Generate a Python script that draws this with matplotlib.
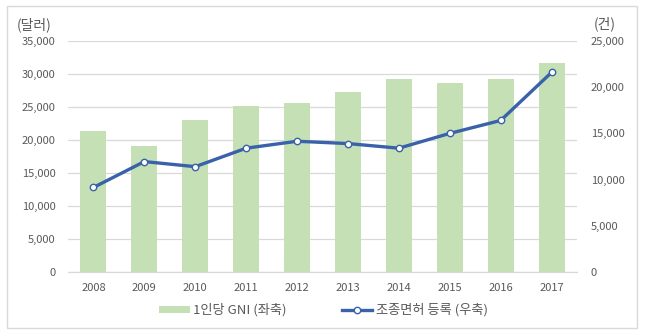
import matplotlib
matplotlib.use("Agg")
import matplotlib.pyplot as plt
from matplotlib.patches import Rectangle
from matplotlib.lines import Line2D
from matplotlib.patches import Patch
from matplotlib.ticker import FuncFormatter

plt.rcParams['font.family'] = ['Noto Sans CJK KR', 'DejaVu Sans']

years = ['2008', '2009', '2010', '2011', '2012', '2013', '2014', '2015', '2016', '2017']
gni_per_capita = [21350, 19100, 23050, 25150, 25650, 27300, 29250, 28700, 29250, 31700]
pilot_licenses = [9150, 11950, 11400, 13400, 14150, 13900, 13400, 15000, 16400, 21600]

left_ticks = [0, 5000, 10000, 15000, 20000, 25000, 30000, 35000]
right_ticks = [0, 5000, 10000, 15000, 20000, 25000]

bar_color = '#C5E0B4'
line_color = '#3A62AA'
text_color = '#595959'
grid_color = '#D9D9D9'

fig = plt.figure(figsize=(6.47, 3.36), dpi=100)
ax = fig.add_axes([68/647, 1-272/336, (577-68)/647, (272-41)/336])
ax2 = ax.twinx()

x = range(len(years))
ax.bar(x, gni_per_capita, width=0.51, color=bar_color, zorder=2)
ax2.plot(x, pilot_licenses, color=line_color, lw=2.4, marker='o', ms=4.6,
         mfc='white', mec=line_color, mew=1.0, zorder=3)

ax.set_xlim(-0.5, len(years) - 0.5)
ax.set_ylim(0, 35000)
ax2.set_ylim(0, 25000)
ax.set_yticks(left_ticks)
ax2.set_yticks(right_ticks)
fmt = FuncFormatter(lambda v, p: f'{int(v):,}')
ax.yaxis.set_major_formatter(fmt)
ax2.yaxis.set_major_formatter(fmt)
ax.set_xticks(list(x))
ax.set_xticklabels(years)

ax.yaxis.grid(True, color=grid_color, lw=0.9, zorder=0)
ax.set_axisbelow(True)
for a in (ax, ax2):
    for s in a.spines.values():
        s.set_visible(False)
ax.spines['bottom'].set_visible(True)
ax.spines['bottom'].set_color(grid_color)
ax.spines['bottom'].set_linewidth(0.9)

ax.tick_params(axis='y', length=0, pad=9, labelsize=8, labelcolor=text_color)
ax2.tick_params(axis='y', length=0, pad=10, labelsize=8, labelcolor=text_color)
ax.tick_params(axis='x', length=0, pad=8, labelsize=8, labelcolor=text_color)

fig.text(17/647, 1-25/336, '(달러)', fontsize=10, color=text_color, va='center', ha='left')
fig.text(605/647, 1-24/336, '(건)', fontsize=10, color=text_color, va='center', ha='center')

handles = [Patch(facecolor=bar_color, edgecolor='none'),
           Line2D([0], [0], color=line_color, lw=2.4, marker='o', ms=4.6,
                  mfc='white', mec=line_color, mew=1.0)]
labels = ['1인당 GNI (좌축)', '조종면허 등록 (우축)']
fig.legend(handles, labels, loc='center', bbox_to_anchor=(0.5, 1-310/336), ncol=2,
           frameon=False, fontsize=9.5, labelcolor=text_color, columnspacing=4.2,
           handlelength=2.3, handleheight=0.45, handletextpad=0.25)

fig.patches.append(Rectangle((7/647, 1-328/336), (637-7)/647, (328-6)/336,
                             transform=fig.transFigure, fill=False,
                             edgecolor='#D9D9D9', lw=1.0))

fig.savefig('out.png', dpi=100)
